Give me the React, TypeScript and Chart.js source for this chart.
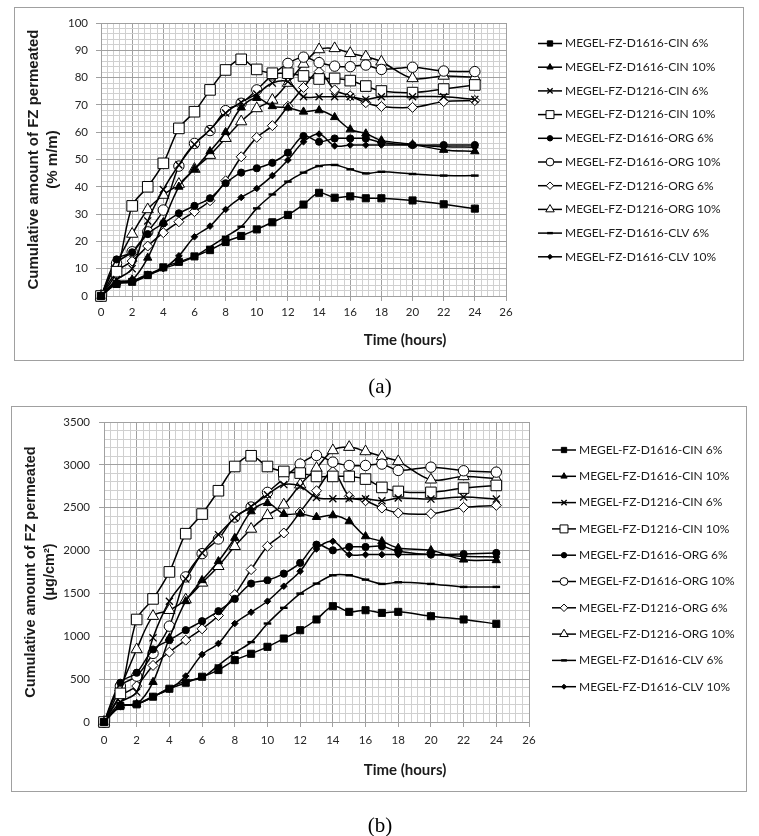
import React, { useEffect, useRef } from 'react';
import { Chart, registerables } from 'chart.js';
import { drawPoint } from 'chart.js/helpers';

Chart.register(...registerables);

// ---------- data ----------
const timeHours = [0, 1, 2, 3, 4, 5, 6, 7, 8, 9, 10, 11, 12, 13, 14, 15, 16, 17, 18, 20, 22, 24];

const seriesLabels = [
  'MEGEL-FZ-D1616-CIN 6%',
  'MEGEL-FZ-D1616-CIN 10%',
  'MEGEL-FZ-D1216-CIN 6%',
  'MEGEL-FZ-D1216-CIN 10%',
  'MEGEL-FZ-D1616-ORG 6%',
  'MEGEL-FZ-D1616-ORG 10%',
  'MEGEL-FZ-D1216-ORG 6%',
  'MEGEL-FZ-D1216-ORG 10%',
  'MEGEL-FZ-D1616-CLV 6%',
  'MEGEL-FZ-D1616-CLV 10%',
];

const xTickLabels = [0, 2, 4, 6, 8, 10, 12, 14, 16, 18, 20, 22, 24, 26];
const yTickLabelsA = [0, 10, 20, 30, 40, 50, 60, 70, 80, 90, 100];
const yTickLabelsB = [0, 500, 1000, 1500, 2000, 2500, 3000, 3500];

// (a) % m/m
const pctD1616Cin6 = [0, 4.4, 5.2, 7.7, 10.5, 12.5, 14.5, 16.8, 19.8, 22, 24.4, 27, 29.7, 33.5, 37.8, 36, 36.5, 35.8, 35.8, 35, 33.6, 32];
const pctD1616Cin10 = [0, 5, 6, 14, 27, 40, 46.5, 53, 60, 69, 72.5, 69.5, 69, 67.5, 68, 65.5, 61, 59.5, 57, 55.5, 53.5, 53];
const pctD1216Cin6 = [0, 6, 10, 27.5, 39, 48, 55.5, 61, 67, 71, 74, 78, 78.5, 73, 73, 73, 73, 72, 73, 73, 73, 72];
const pctD1216Cin10 = [0, 8.9, 33, 40, 48.6, 61.4, 67.5, 75.5, 82.8, 86.7, 83, 81.6, 81.6, 80.6, 79.5, 79.7, 78.9, 76.9, 75.1, 74.5, 75.8, 77.3];
const pctD1616Org6 = [0, 13.4, 16, 22.7, 26.6, 30.3, 33, 35.8, 41.3, 45.2, 46.8, 48.8, 52.5, 58.6, 56.5, 57.7, 57.7, 57.7, 56.2, 55.3, 55.3, 55.3];
const pctD1616Org10 = [0, 12, 16.2, 23.5, 31.5, 47.6, 55.9, 60.6, 67.9, 70.6, 75.5, 81, 85.2, 87.5, 85.5, 84.2, 84, 84.6, 83, 83.8, 82.4, 82.2];
const pctD1216Org6 = [0, 9, 12.8, 18.3, 23.2, 27.2, 30.9, 34.9, 42.2, 51, 58.1, 62.4, 69.5, 76.4, 82.2, 75.5, 73.3, 70.8, 69.4, 69.1, 71.2, 71.6];
const pctD1216Org10 = [0, 12, 22.7, 31.7, 37, 41, 46.5, 51.6, 57.8, 63.9, 68.7, 71.8, 78, 85, 90.3, 90.7, 88.9, 87.7, 85.8, 79.7, 80.6, 80.1];
const pctD1616Clv6 = [0, 4.5, 5, 7.5, 10, 12, 14.4, 18, 21.7, 25.4, 32.1, 37.2, 41.9, 45.2, 47.6, 48, 46.4, 44.9, 45.5, 44.7, 44.1, 44.1];
const pctD1616Clv10 = [0, 5, 5.5, 8, 10, 14.7, 21.7, 25.6, 31.7, 36.1, 39.4, 44.1, 49.8, 56.5, 59.3, 55, 55.3, 55.3, 55.3, 55.3, 54.7, 54.5];

// (b) µg/cm²
const ugD1616Cin6 = [0, 186, 206, 295, 388, 458, 528, 606, 722, 796, 877, 974, 1071, 1196, 1351, 1285, 1304, 1273, 1285, 1234, 1196, 1145];
const ugD1616Cin10 = [0, 190, 210, 466, 980, 1409, 1654, 1875, 2147, 2457, 2554, 2426, 2430, 2391, 2411, 2341, 2166, 2108, 2030, 2003, 1894, 1887];
const ugD1216Cin6 = [0, 230, 349, 982, 1409, 1669, 1972, 2186, 2380, 2515, 2651, 2770, 2750, 2620, 2605, 2605, 2605, 2581, 2613, 2601, 2624, 2601];
const ugD1216Cin10 = [0, 334, 1196, 1436, 1751, 2197, 2426, 2698, 2981, 3106, 2981, 2923, 2904, 2865, 2865, 2865, 2834, 2737, 2690, 2679, 2729, 2760];
const ugD1616Org6 = [0, 458, 575, 846, 955, 1071, 1176, 1293, 1436, 1615, 1654, 1731, 1856, 2069, 2003, 2042, 2042, 2050, 1991, 1953, 1960, 1972];
const ugD1616Org10 = [0, 420, 535, 800, 1118, 1693, 1964, 2135, 2391, 2508, 2679, 2840, 3009, 3110, 3032, 2993, 2993, 3009, 2935, 2973, 2931, 2915];
const ugD1216Org6 = [0, 300, 420, 660, 815, 955, 1087, 1242, 1487, 1778, 2050, 2205, 2450, 2698, 2923, 2632, 2581, 2496, 2438, 2430, 2504, 2527];
const ugD1216Org10 = [0, 400, 846, 1235, 1304, 1428, 1623, 1817, 2050, 2252, 2411, 2535, 2768, 2962, 3168, 3207, 3156, 3098, 3040, 2826, 2865, 2838];
const ugD1616Clv6 = [0, 180, 210, 290, 400, 477, 516, 660, 807, 932, 1149, 1332, 1498, 1615, 1712, 1712, 1661, 1611, 1630, 1611, 1576, 1576];
const ugD1616Clv10 = [0, 180, 210, 300, 380, 536, 788, 916, 1149, 1281, 1409, 1584, 1759, 2019, 2108, 1953, 1953, 1953, 1953, 1953, 1933, 1925];

const panelASeries = [pctD1616Cin6, pctD1616Cin10, pctD1216Cin6, pctD1216Cin10, pctD1616Org6, pctD1616Org10, pctD1216Org6, pctD1216Org10, pctD1616Clv6, pctD1616Clv10];
const panelBSeries = [ugD1616Cin6, ugD1616Cin10, ugD1216Cin6, ugD1216Cin10, ugD1616Org6, ugD1616Org10, ugD1216Org6, ugD1216Org10, ugD1616Clv6, ugD1616Clv10];

// ---------- styles ----------
const markerStyles = [
  { pointStyle: 'rect', radius: 5, fill: '#000', bw: 1 },
  { pointStyle: 'triangle', radius: 4.8, fill: '#000', bw: 1 },
  { pointStyle: 'crossRot', radius: 5, fill: '#000', bw: 1.3 },
  { pointStyle: 'rect', radius: 7.5, fill: '#fff', bw: 1 },
  { pointStyle: 'circle', radius: 3.6, fill: '#000', bw: 1 },
  { pointStyle: 'circle', radius: 5.2, fill: '#fff', bw: 1 },
  { pointStyle: 'rectRot', radius: 5, fill: '#fff', bw: 1 },
  { pointStyle: 'triangle', radius: 6.5, fill: '#fff', bw: 1 },
  { pointStyle: 'line', radius: 3.8, fill: '#000', bw: 2.4 },
  { pointStyle: 'rectRot', radius: 3.3, fill: '#000', bw: 1 },
];

const MAJOR_GRID = '#a0a0a0';
const MINOR_GRID = '#d0d0d0';
const FONT = 'Lato, "Liberation Sans", sans-serif';

const isMultiple = (v: number, step: number) => Math.abs(v / step - Math.round(v / step)) < 1e-6;

const legendPlugin = {
  id: 'lineLegend',
  afterDraw(chart: any, _args: any, opts: any) {
    const { ctx } = chart;
    ctx.save();
    chart.data.datasets.forEach((ds: any, i: number) => {
      const yy = opts.y + i * opts.dy;
      ctx.strokeStyle = '#000';
      ctx.lineWidth = 1.5;
      ctx.beginPath();
      ctx.moveTo(opts.x, yy);
      ctx.lineTo(opts.x + opts.len, yy);
      ctx.stroke();
      ctx.fillStyle = ds.pointBackgroundColor;
      ctx.strokeStyle = '#000';
      ctx.lineWidth = ds.pointBorderWidth;
      drawPoint(ctx, { pointStyle: ds.pointStyle, radius: ds.pointRadius * 0.75, borderWidth: ds.pointBorderWidth, rotation: 0 } as any, opts.x + opts.len / 2, yy);
      ctx.fillStyle = '#1a1a1a';
      ctx.font = `12px ${FONT}`;
      ctx.textBaseline = 'middle';
      ctx.textAlign = 'left';
      ctx.fillText(ds.label, opts.x + opts.len + 3, yy);
    });
    ctx.restore();
  },
};

type PanelProps = {
  series: number[][];
  yMax: number;
  yMinor: number;
  yMajorLabels: number[];
  yTitle: string[];
  top: number;
  height: number;
  pad: { left: number; top: number; right: number; bottom: number };
  yWidth: number;
  xHeight: number;
  titlePad: number;
  titleSize: number;
  xLabelPad: number;
  yLabelPad: number;
  legend: { x: number; y: number; dy: number; len: number };
};

function Panel(p: PanelProps) {
  const ref = useRef<HTMLCanvasElement>(null);
  useEffect(() => {
    if (!ref.current) return;
    const yMajor = p.yMajorLabels[1] - p.yMajorLabels[0];
    const xMajor = xTickLabels[1] - xTickLabels[0];
    const datasets = p.series.map((vals, i) => {
      const m = markerStyles[i];
      return {
        label: seriesLabels[i],
        data: timeHours.map((t, k) => ({ x: t, y: vals[k] })),
        borderColor: '#000',
        borderWidth: 1.5,
        pointStyle: m.pointStyle,
        pointRadius: m.radius,
        pointBackgroundColor: m.fill,
        pointBorderColor: '#000',
        pointBorderWidth: m.bw,
        tension: 0.33,
        fill: false,
        clip: false,
      };
    });
    const chart = new Chart(ref.current, {
      type: 'line',
      data: { datasets },
      plugins: [legendPlugin],
      options: {
        animation: false,
        responsive: false,
        events: [],
        layout: { padding: p.pad },
        plugins: {
          legend: { display: false },
          tooltip: { enabled: false },
          lineLegend: p.legend,
        } as any,
        scales: {
          x: {
            type: 'linear',
            min: 0,
            max: 26,
            afterBuildTicks: (scale: any) => {
              scale.ticks = Array.from({ length: 66 }, (_, i) => ({ value: Math.round(i * 4) / 10 }));
            },
            afterFit: (scale: any) => {
              scale.height = p.xHeight;
            },
            grid: {
              color: (c: any) => (c.tick && isMultiple(c.tick.value, xMajor) ? MAJOR_GRID : MINOR_GRID),
              tickColor: (c: any) => (c.tick && isMultiple(c.tick.value, xMajor) ? MAJOR_GRID : 'rgba(0,0,0,0)'),
              tickLength: 5,
              lineWidth: 1,
            },
            border: { color: MAJOR_GRID, width: 1 },
            ticks: {
              autoSkip: false,
              maxRotation: 0,
              minRotation: 0,
              padding: p.xLabelPad,
              color: '#262626',
              font: { family: FONT, size: 11.5 },
              callback: (v: any) => (xTickLabels.some((t) => Math.abs(t - v) < 1e-6) ? String(Math.round(v)) : ''),
            },
            title: { display: false },
          },
          y: {
            type: 'linear',
            min: 0,
            max: p.yMax,
            afterBuildTicks: (scale: any) => {
              const n = Math.round(p.yMax / p.yMinor);
              scale.ticks = Array.from({ length: n + 1 }, (_, i) => ({ value: i * p.yMinor }));
            },
            afterFit: (scale: any) => {
              scale.width = p.yWidth;
            },
            grid: {
              color: (c: any) => (c.tick && isMultiple(c.tick.value, yMajor) ? MAJOR_GRID : MINOR_GRID),
              tickColor: (c: any) => (c.tick && isMultiple(c.tick.value, yMajor) ? MAJOR_GRID : 'rgba(0,0,0,0)'),
              tickLength: 5,
              lineWidth: 1,
            },
            border: { color: MAJOR_GRID, width: 1 },
            ticks: {
              autoSkip: false,
              padding: p.yLabelPad,
              color: '#262626',
              font: { family: FONT, size: 11.5 },
              callback: (v: any) => (p.yMajorLabels.some((t) => Math.abs(t - v) < 1e-6) ? String(Math.round(v)) : ''),
            },
            title: {
              display: true,
              text: p.yTitle,
              color: '#1a1a1a',
              font: { family: '"Liberation Sans", Arial, sans-serif', size: p.titleSize, weight: 'bold', lineHeight: 1.3 },
              padding: { top: p.titlePad, bottom: 0 },
            },
          },
        },
      } as any,
    });
    return () => chart.destroy();
  }, []);
  return (
    <canvas
      ref={ref}
      width={759}
      height={p.height}
      style={{ position: 'absolute', left: 0, top: p.top, width: 759, height: p.height }}
    />
  );
}

const boxStyle = (left: number, top: number, right: number, bottom: number): React.CSSProperties => ({
  position: 'absolute',
  left,
  top,
  width: right - left,
  height: bottom - top,
  border: '1px solid #a0a0a0',
  boxSizing: 'border-box',
  background: '#fff',
});

const xTitleStyle = (cx: number, cy: number): React.CSSProperties => ({
  position: 'absolute',
  left: cx,
  top: cy,
  transform: 'translate(-50%, -50%)',
  font: `bold 15px ${FONT}`,
  color: '#1a1a1a',
  whiteSpace: 'nowrap',
});

const captionStyle = (cx: number, cy: number): React.CSSProperties => ({
  position: 'absolute',
  left: cx,
  top: cy,
  transform: 'translate(-50%, -50%)',
  font: '21px "Liberation Serif", "Times New Roman", serif',
  color: '#000',
  whiteSpace: 'nowrap',
});

export default function App() {
  return (
    <div style={{ position: 'absolute', left: 0, top: 0, width: 759, height: 836, background: '#fff' }}>
      <div style={boxStyle(14, 7, 744, 361)} />
      <Panel
        series={panelASeries}
        yMax={100}
        yMinor={2}
        yMajorLabels={yTickLabelsA}
        yTitle={['Cumulative amount of FZ permeated', '(% m/m)']}
        top={0}
        height={365}
        pad={{ left: 14, top: 23, right: 253, bottom: 5 }}
        yWidth={87}
        xHeight={64}
        titlePad={10}
        titleSize={15}
        xLabelPad={4}
        yLabelPad={8}
        legend={{ x: 538, y: 43.5, dy: 23.7, len: 24 }}
      />
      <div style={xTitleStyle(405, 339)}>Time (hours)</div>
      <div style={captionStyle(380, 386)}>(a)</div>

      <div style={boxStyle(11, 406, 747, 792)} />
      <Panel
        series={panelBSeries}
        yMax={3500}
        yMinor={100}
        yMajorLabels={yTickLabelsB}
        yTitle={['Cumulative amount of FZ permeated', '(μg/cm²)']}
        top={400}
        height={400}
        pad={{ left: 11, top: 22, right: 230, bottom: 9 }}
        yWidth={93}
        xHeight={69}
        titlePad={11}
        titleSize={14.5}
        xLabelPad={6}
        yLabelPad={9}
        legend={{ x: 552, y: 50, dy: 26.3, len: 24 }}
      />
      <div style={xTitleStyle(405, 769)}>Time (hours)</div>
      <div style={captionStyle(380, 825)}>(b)</div>
    </div>
  );
}
